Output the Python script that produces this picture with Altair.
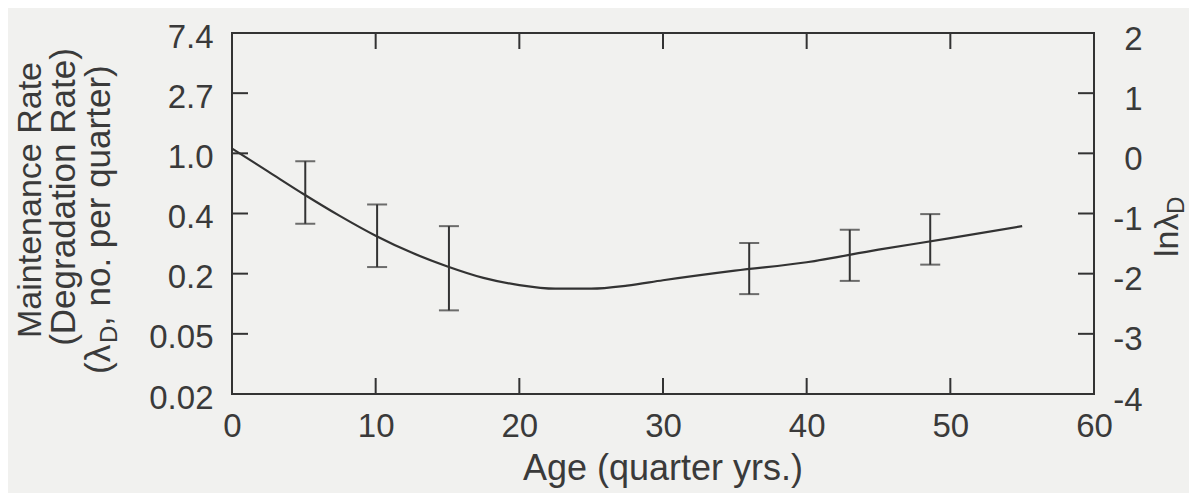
import altair as alt
import pandas as pd

# ---- data (ln lambda_D) ----
curve_age = [0, 2.5, 5, 7.5, 10, 12.5, 15, 17.5, 20, 22.5, 25, 27.5, 30, 35, 40, 45, 50, 55]
curve_ln = [0.08, -0.30, -0.68, -1.04, -1.37, -1.65, -1.88, -2.07, -2.19, -2.25, -2.25, -2.20, -2.11, -1.95, -1.81, -1.60, -1.41, -1.21]

err_age = [5.1, 10.1, 15.1, 36, 43, 48.6]
err_lo = [-1.17, -1.89, -2.61, -2.34, -2.12, -1.85]
err_hi = [-0.13, -0.85, -1.21, -1.49, -1.27, -1.01]

ln_ticks = [2, 1, 0, -1, -2, -3, -4]
rate_labels = ["7.4", "2.7", "1.0", "0.4", "0.2", "0.05", "0.02"]
inner_y_ticks = [1, 0, -1, -2, -3]
x_ticks = [0, 10, 20, 30, 40, 50, 60]
inner_x_ticks = [10, 20, 30, 40, 50]

left_title_lines = ["Maintenance Rate", "(Degradation Rate)"]
left_title_3 = ["(λ", "D", ", no. per quarter)"]
right_title = ["lnλ", "D"]
x_title = "Age (quarter yrs.)"

W, H = 862, 361
FONT = "Liberation Sans"
INK = "#333333"
TXT = "#3a3a3a"

curve_df = pd.DataFrame({"age": curve_age, "ln": curve_ln})
err_df = pd.DataFrame({"age": err_age, "lo": err_lo, "hi": err_hi})
ytick_df = pd.DataFrame({"ln": inner_y_ticks})
xtick_df = pd.DataFrame({"age": inner_x_ticks})

xscale = alt.Scale(domain=[0, 60], nice=False, zero=False)
yscale = alt.Scale(domain=[-4, 2], nice=False, zero=False)

label_expr = " : ".join(f"datum.value == {v} ? '{l}'" for v, l in zip(ln_ticks, rate_labels)) + " : ''"

line = alt.Chart(curve_df).mark_line(color=INK, strokeWidth=2.2, interpolate="monotone").encode(
    x=alt.X("age:Q", scale=xscale, axis=alt.Axis(
        values=x_ticks, title=None, grid=False, domain=False, ticks=False,
        labelFont=FONT, labelFontSize=33, labelColor=TXT, labelPadding=16, labelFlush=False,
        labelExpr="'' + datum.value")),
    y=alt.Y("ln:Q", scale=yscale, axis=alt.Axis(
        orient="left", values=ln_ticks, labelExpr=label_expr, title=None, grid=False,
        domain=False, ticks=False, labelFont=FONT, labelFontSize=33, labelColor=TXT,
        labelPadding=19, labelOffset=4)),
)

err_rule = alt.Chart(err_df).mark_rule(color=INK, strokeWidth=2).encode(
    x=alt.X("age:Q", scale=xscale, axis=None),
    y=alt.Y("lo:Q", scale=yscale, axis=alt.Axis(
        orient="right", values=ln_ticks, title=None, grid=False, domain=False, ticks=False,
        labelFont=FONT, labelFontSize=33, labelColor=TXT, labelAlign="right",
        labelPadding=48, labelOffset=6, labelExpr="'' + datum.value")),
    y2="hi:Q",
)
cap_lo = alt.Chart(err_df).mark_tick(color=INK, orient="horizontal", size=20, thickness=2).encode(
    x=alt.X("age:Q", scale=xscale, axis=None),
    y=alt.Y("lo:Q", scale=yscale, axis=None),
)
cap_hi = alt.Chart(err_df).mark_tick(color=INK, orient="horizontal", size=20, thickness=2).encode(
    x=alt.X("age:Q", scale=xscale, axis=None),
    y=alt.Y("hi:Q", scale=yscale, axis=None),
)

TL = 16
left_ticks = alt.Chart(ytick_df).mark_rule(color=INK, strokeWidth=2).encode(
    y=alt.Y("ln:Q", scale=yscale, axis=None), x=alt.value(0), x2=alt.value(TL))
right_ticks = alt.Chart(ytick_df).mark_rule(color=INK, strokeWidth=2).encode(
    y=alt.Y("ln:Q", scale=yscale, axis=None), x=alt.value(W - TL), x2=alt.value(W))
bottom_ticks = alt.Chart(xtick_df).mark_rule(color=INK, strokeWidth=2).encode(
    x=alt.X("age:Q", scale=xscale, axis=None), y=alt.value(H - TL), y2=alt.value(H))
top_ticks = alt.Chart(xtick_df).mark_rule(color=INK, strokeWidth=2).encode(
    x=alt.X("age:Q", scale=xscale, axis=None), y=alt.value(0), y2=alt.value(TL))

def text_mark(txt, x, y, size=36, angle=270, align="center"):
    return alt.Chart(pd.DataFrame({"t": [txt]})).mark_text(
        font=FONT, fontSize=size, color=TXT, angle=angle, align=align, baseline="alphabetic"
    ).encode(text="t:N", x=alt.value(x), y=alt.value(y))

titles = [
    text_mark(left_title_lines[0], -191, 167, size=34),
    text_mark(left_title_lines[1], -157, 164, size=35),
    text_mark(left_title_3[0], -122, 341, size=35, align="left"),
    text_mark(left_title_3[1], -115, 310, size=24, align="left"),
    text_mark(left_title_3[2], -122, 293, size=35, align="left"),
    text_mark(right_title[0], 946, 224, size=34, align="left"),
    text_mark(right_title[1], 952, 181, size=24, align="left"),
    text_mark(x_title, W / 2, 447, angle=0),
]

chart = alt.layer(
    line, err_rule, cap_lo, cap_hi, left_ticks, right_ticks, bottom_ticks, top_ticks, *titles
).resolve_axis(x="independent", y="independent").properties(
    width=W, height=H,
    autosize=alt.AutoSizeParams(type="none"),
    padding={"left": 224, "top": 25, "right": 95, "bottom": 99},
    background="#f1f1ef",
).configure_view(stroke=INK, strokeWidth=2)

chart.save("out.html", embed_options={"renderer": "svg", "actions": False})
